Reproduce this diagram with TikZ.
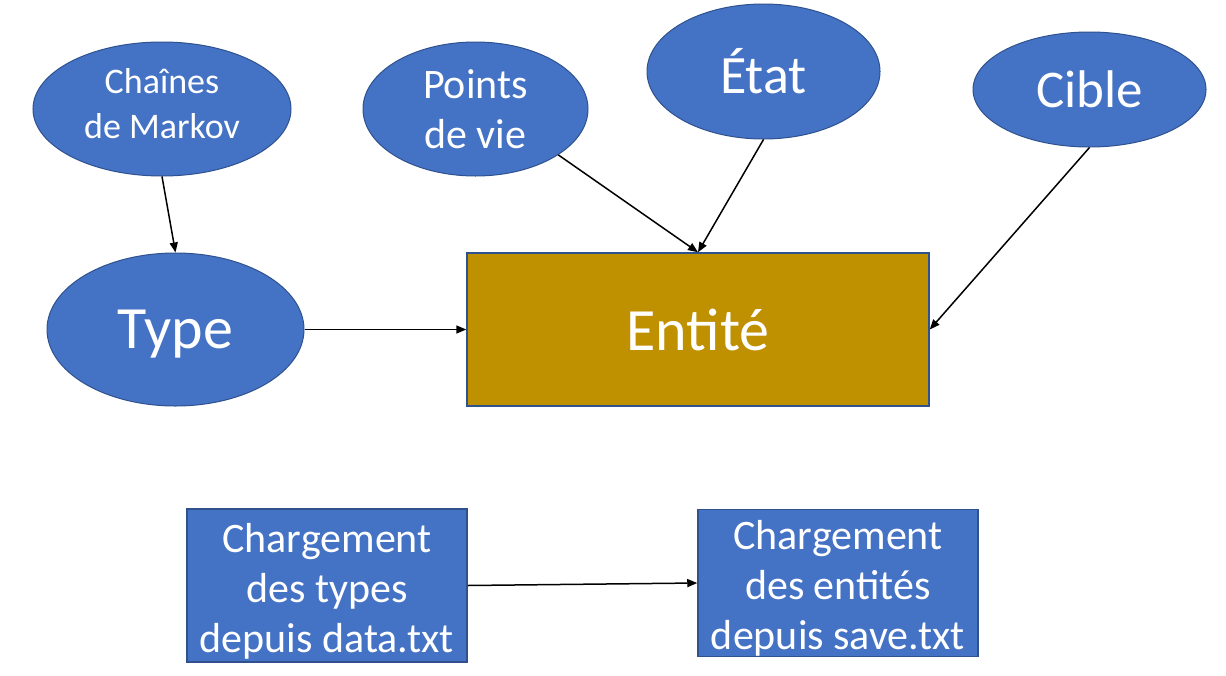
\documentclass[tikz,border=0pt]{standalone}
\usepackage{fontspec}
\setmainfont{Carlito}
\usetikzlibrary{shapes.geometric,arrows.meta}
\definecolor{nodeblue}{HTML}{4472C4}
\definecolor{edgeblue}{HTML}{2F528F}
\definecolor{gold}{HTML}{BF9000}
\tikzset{
  oval/.style={ellipse, fill=nodeblue, draw=edgeblue, line width=1pt, inner sep=0pt, text=white, align=center},
  boxnode/.style={rectangle, fill=nodeblue, draw=edgeblue, line width=1.5pt, inner sep=0pt, text=white, align=center},
  entbox/.style={rectangle, fill=gold, draw=edgeblue, line width=1.5pt, inner sep=0pt, text=white, align=center},
  link/.style={draw=black, line width=1.5pt, -{Triangle[length=10pt,width=8pt]}}
}
\begin{document}
\begin{tikzpicture}[x=1pt,y=-1pt]
\useasboundingbox (0,0) rectangle (1226,675);
\fill[white] (0,0) rectangle (1226,675);
\node[oval, minimum width=258pt, minimum height=134pt, font=\fontsize{36}{45}\selectfont] (markov) at (162,109) {Chaînes\\de Markov\rule[-12pt]{0pt}{12pt}};
\node[oval, minimum width=225pt, minimum height=134pt, font=\fontsize{42}{50}\selectfont] (pv) at (475.5,109) {Points\\de vie};
\node[oval, minimum width=233pt, minimum height=135pt, font=\fontsize{54}{60}\selectfont] (etat) at (763.5,71.5) {État};
\node[oval, minimum width=233pt, minimum height=115pt, font=\fontsize{53}{60}\selectfont] (cible) at (1089.5,89.5) {Cible};
\node[oval, minimum width=257pt, minimum height=153pt, text depth=0pt, font=\fontsize{60}{66}\selectfont] (type) at (175.5,329.5) {Type};
\node[entbox, minimum width=462pt, minimum height=153pt, font=\fontsize{60}{66}\selectfont] (ent) at (698,329.5) {Entité};
\node[boxnode, minimum width=280pt, minimum height=153pt, font=\fontsize{42}{50}\selectfont] (load1) at (327,585.5) {\rule{0pt}{40pt}Chargement\\des types\\depuis data.txt};
\node[boxnode, minimum width=280pt, minimum height=144pt, font=\fontsize{42}{50}\selectfont] (load2) at (838,583) {\rule{0pt}{40pt}Chargement\\des entités\\depuis save.txt};
\draw[link] (markov.south) -- (type.north);
\draw[link] (pv.-29) -- (ent.north);
\draw[link] (etat.south) -- (ent.north);
\draw[link] (cible.south) -- (ent.east);
\draw[link] (type.east) -- (ent.west);
\draw[link] (load1.east) -- (load2.west);
\end{tikzpicture}
\end{document}
